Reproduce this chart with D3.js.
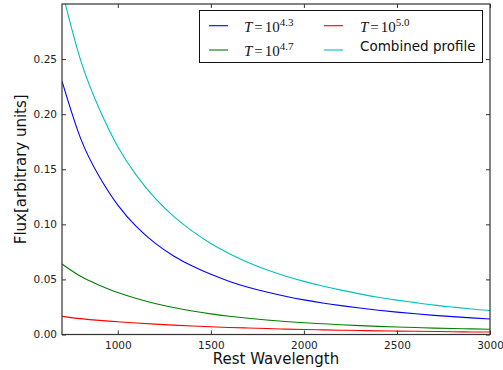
<!DOCTYPE html>
<html>
<head>
<meta charset="utf-8">
<script src="https://cdn.jsdelivr.net/npm/d3@7"></script>
<style>
  html, body { margin: 0; padding: 0; background: #fff; }
  svg { display: block; }
  .tick text { font-family: "DejaVu Sans", sans-serif; font-size: 10.5px; fill: #222; }
  .tick line { stroke: #333; stroke-width: 1; }
</style>
</head>
<body>
<svg id="chart" width="503" height="370"></svg>
<script>
// Rest wavelength samples (Angstrom), every 100 from 700 to 3000
const wavelengths  = [700, 800, 900, 1000, 1100, 1200, 1300, 1400, 1500, 1600, 1700, 1800,
                      1900, 2000, 2100, 2200, 2300, 2400, 2500, 2600, 2700, 2800, 2900, 3000];
// Flux of each temperature component and of the combined profile
const fluxT43      = [0.230, 0.178, 0.1435, 0.1175, 0.0980, 0.0830, 0.0713, 0.0621, 0.0546, 0.0482, 0.0429, 0.0385,
                      0.0347, 0.0314, 0.0286, 0.0262, 0.0240, 0.0220, 0.0203, 0.0188, 0.0174, 0.0162, 0.0151, 0.0141];
const fluxT47      = [0.0640, 0.0528, 0.0448, 0.0381, 0.0327, 0.0282, 0.0245, 0.0214, 0.0187, 0.0165, 0.0147, 0.0131,
                      0.0118, 0.0107, 0.0098, 0.0089, 0.0081, 0.0074, 0.0068, 0.0063, 0.0058, 0.0054, 0.0051, 0.0048];
const fluxT50      = [0.0165, 0.0144, 0.0128, 0.0116, 0.0104, 0.0094, 0.0085, 0.0077, 0.0070, 0.0064, 0.0059, 0.0054,
                      0.0049, 0.0045, 0.0042, 0.0039, 0.0036, 0.0033, 0.0031, 0.0029, 0.0027, 0.0025, 0.0023, 0.0022];
const fluxCombined = [0.312, 0.249, 0.205, 0.1705, 0.1445, 0.1237, 0.1072, 0.0938, 0.0826, 0.0732, 0.0654, 0.0588,
                      0.0531, 0.0482, 0.0440, 0.0403, 0.0369, 0.0338, 0.0312, 0.0289, 0.0267, 0.0249, 0.0232, 0.0218];

const xTicks = [1000, 1500, 2000, 2500, 3000];
const yTicks = [0.00, 0.05, 0.10, 0.15, 0.20, 0.25];

const series = [
  { exp: "4.3", values: fluxT43,      color: "#0000ff" },
  { exp: "4.7", values: fluxT47,      color: "#008000" },
  { exp: "5.0", values: fluxT50,      color: "#ff0000" },
  { name: "Combined profile", values: fluxCombined, color: "#00bfbf" }
];

const plot = { left: 62, right: 490, top: 4, bottom: 334.5 };

const x = d3.scaleLinear().domain([700, 3000]).range([plot.left, plot.right]);
const y = d3.scaleLinear().domain([0, 0.3]).range([plot.bottom, plot.top]);

const svg = d3.select("#chart");

svg.append("defs").append("clipPath").attr("id", "plot-clip")
  .append("rect")
  .attr("x", plot.left).attr("y", plot.top)
  .attr("width", plot.right - plot.left).attr("height", plot.bottom - plot.top);

// Curves
const line = d3.line()
  .x((d, i) => x(wavelengths[i]))
  .y(d => y(d))
  .curve(d3.curveNatural);

const lines = svg.append("g").attr("clip-path", "url(#plot-clip)");
series.forEach(s => {
  lines.append("path")
    .attr("d", line(s.values))
    .attr("fill", "none")
    .attr("stroke", s.color)
    .attr("stroke-width", 1.1);
});

// Axes with inward ticks on all four sides
const fmtY = d3.format(".2f");
const fmtX = d3.format("d");
svg.append("g")
  .attr("transform", `translate(0,${plot.bottom})`)
  .call(d3.axisBottom(x).tickValues(xTicks).tickFormat(fmtX).tickSizeInner(-4).tickSizeOuter(0).tickPadding(7))
  .call(g => g.select(".domain").remove());
svg.append("g")
  .attr("transform", `translate(0,${plot.top})`)
  .call(d3.axisTop(x).tickValues(xTicks).tickSizeInner(-4).tickSizeOuter(0).tickFormat(""))
  .call(g => g.select(".domain").remove());
svg.append("g")
  .attr("transform", `translate(${plot.left},0)`)
  .call(d3.axisLeft(y).tickValues(yTicks).tickFormat(fmtY).tickSizeInner(-4).tickSizeOuter(0).tickPadding(5))
  .call(g => g.select(".domain").remove());
svg.append("g")
  .attr("transform", `translate(${plot.right},0)`)
  .call(d3.axisRight(y).tickValues(yTicks).tickSizeInner(-4).tickSizeOuter(0).tickFormat(""))
  .call(g => g.select(".domain").remove());

// Frame
svg.append("rect")
  .attr("x", plot.left).attr("y", plot.top)
  .attr("width", plot.right - plot.left).attr("height", plot.bottom - plot.top)
  .attr("fill", "none").attr("stroke", "#333").attr("stroke-width", 1.2);

// Axis labels
svg.append("text")
  .attr("x", (plot.left + plot.right) / 2).attr("y", 364)
  .attr("text-anchor", "middle")
  .attr("font-family", "DejaVu Sans, sans-serif").attr("font-size", 15).attr("fill", "#111")
  .text("Rest Wavelength");
svg.append("text")
  .attr("transform", `translate(26,${(plot.top + plot.bottom) / 2}) rotate(-90)`)
  .attr("text-anchor", "middle")
  .attr("font-family", "DejaVu Sans, sans-serif").attr("font-size", 15).attr("fill", "#111")
  .text("Flux[arbitrary units]");

// Legend
const legend = svg.append("g");
legend.append("rect")
  .attr("x", 199.5).attr("y", 10.5).attr("width", 283).attr("height", 52)
  .attr("fill", "#fff").attr("stroke", "#111").attr("stroke-width", 1);

const slots = [
  { lx: 209, ly: 25.7, tx: 244, ty: 31.5 },
  { lx: 209, ly: 50,   tx: 244, ty: 55.5 },
  { lx: 324, ly: 25.7, tx: 360, ty: 31.5 },
  { lx: 324, ly: 50,   tx: 360, ty: 51 }
];
series.forEach((s, i) => {
  const p = slots[i];
  legend.append("line")
    .attr("x1", p.lx).attr("x2", p.lx + 19).attr("y1", p.ly).attr("y2", p.ly)
    .attr("stroke", s.color).attr("stroke-width", 1.1);
  const t = legend.append("text").attr("x", p.tx).attr("y", p.ty).attr("fill", "#111");
  if (s.exp) {
    t.attr("font-family", "Liberation Serif, serif").attr("font-size", 15);
    t.append("tspan").attr("font-style", "italic").text("T");
    t.append("tspan").attr("dx", 2).text("=");
    t.append("tspan").attr("dx", 2).text("10");
    t.append("tspan").attr("font-size", 11).attr("dy", -6).text(s.exp);
  } else {
    t.attr("font-family", "DejaVu Sans, sans-serif").attr("font-size", 13.5).text(s.name);
  }
});
</script>
</body>
</html>
